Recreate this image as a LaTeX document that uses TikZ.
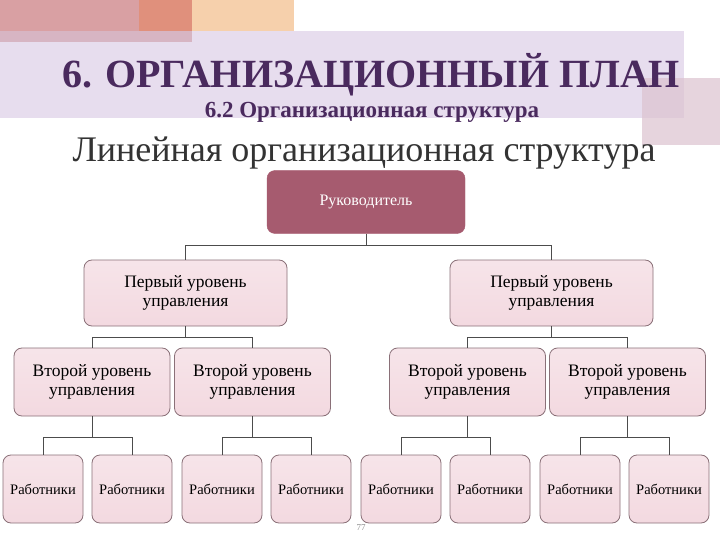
\documentclass[tikz,border=0pt]{standalone}
\usepackage{fontspec}
\setmainfont{Liberation Serif}
\definecolor{ttl}{HTML}{4A2A5E}
\definecolor{rootc}{HTML}{A65B6F}
\definecolor{boxf}{HTML}{F3D9E0}
\definecolor{boxd}{HTML}{8A7078}
\definecolor{lav}{HTML}{E7DDEE}
\definecolor{d1}{HTML}{D9A0A3}
\definecolor{d2}{HTML}{E0907C}
\definecolor{d3}{HTML}{F6D0AC}
\definecolor{d4}{HTML}{C98F9A}
\definecolor{d5}{HTML}{DCC3CF}
\begin{document}
\begin{tikzpicture}[x=1pt,y=-1pt,
  bx/.style={draw=boxd,line width=0.8pt,rounded corners=8pt,top color=white!30!boxf,bottom color=boxf,align=center,inner sep=0pt,font=\fontsize{17.5}{19}\selectfont},
  wk/.style={bx,font=\fontsize{14.5}{16}\selectfont},
  ln/.style={draw=black!70,line width=0.6pt}]
\useasboundingbox (0,0) rectangle (720,540);
\fill[white] (0,0) rectangle (720,540);
% decorations
\fill[d1] (0,0) rectangle (139,42);
\fill[d2] (139,0) rectangle (192,42);
\fill[d3] (192,0) rectangle (294,42);
\fill[lav] (0,31) rectangle (684,118);
\fill[d4,opacity=0.5] (0,31) rectangle (192,42);
\fill[d5,opacity=0.7] (642,78) rectangle (720,145);
% titles
\node[text=ttl,font=\bfseries\fontsize{40}{44}\selectfont] (t1) at (371,75) {6. ОРГАНИЗАЦИОННЫЙ ПЛАН};
\node[text=ttl,font=\bfseries\fontsize{23}{26}\selectfont] (t2) at (372,112) {6.2 Организационная структура};
\node[text=black!80,font=\fontsize{36}{38}\selectfont] (t3) at (364,153) {Линейная организационная структура};
% boxes
\node[draw=rootc,fill=rootc,rounded corners=8pt,minimum width=198pt,minimum height=63pt,text=white,font=\fontsize{16}{18}\selectfont] (r) at (366,202) {Руководитель};
\node[bx,minimum width=203pt,minimum height=66pt] (a) at (185.5,293) {Первый уровень\\управления};
\node[bx,minimum width=203pt,minimum height=66pt] (b) at (551.5,293) {Первый уровень\\управления};
\foreach \n/\x in {c1/92,c2/252.5,c3/467.5,c4/627.5}
  \node[bx,minimum width=156pt,minimum height=68pt] (\n) at (\x,382) {Второй уровень\\управления};
\foreach \n/\x in {w1/43,w2/132,w3/222,w4/311,w5/401,w6/490,w7/580,w8/669}
  \node[wk,minimum width=80pt,minimum height=68pt] (\n) at (\x,489) {Работники};
% connectors
\draw[ln] (r.south) -- ++(0,12) -| (a.north);
\draw[ln] (r.south) ++(0,12) -| (b.north);
\draw[ln] (a.south) -- ++(0,11) -| (c1.north);
\draw[ln] (a.south) ++(0,11) -| (c2.north);
\draw[ln] (b.south) -- ++(0,11) -| (c3.north);
\draw[ln] (b.south) ++(0,11) -| (c4.north);
\draw[ln] (c1.south) -- ++(0,21) -| (w1.north); \draw[ln] (c1.south) ++(0,21) -| (w2.north);
\draw[ln] (c2.south) -- ++(0,21) -| (w3.north); \draw[ln] (c2.south) ++(0,21) -| (w4.north);
\draw[ln] (c3.south) -- ++(0,21) -| (w5.north); \draw[ln] (c3.south) ++(0,21) -| (w6.north);
\draw[ln] (c4.south) -- ++(0,21) -| (w7.north); \draw[ln] (c4.south) ++(0,21) -| (w8.north);
\node[text=black!45,font=\fontsize{9}{10}\selectfont] (pg) at (361,528) {77};
\end{tikzpicture}
\end{document}
